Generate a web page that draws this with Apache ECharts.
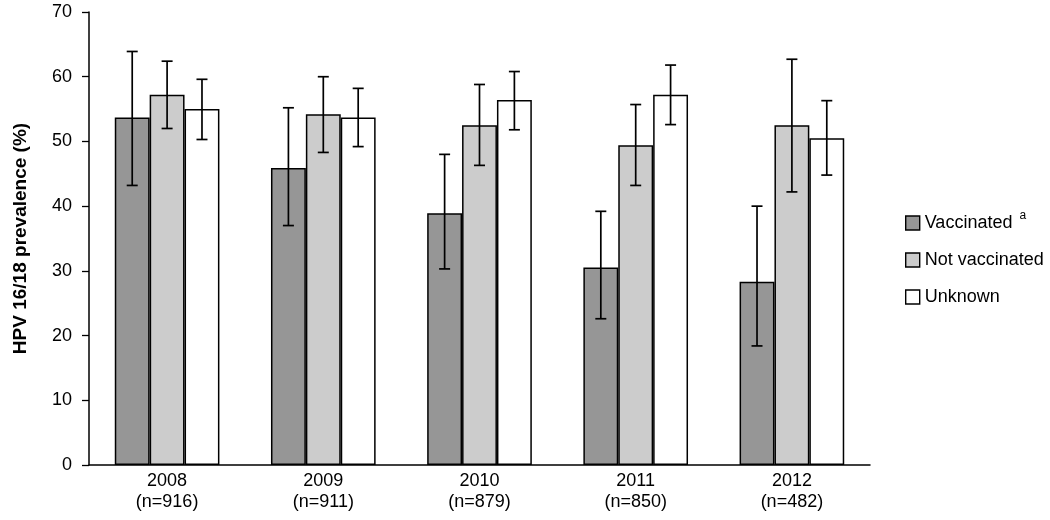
<!DOCTYPE html>
<html><head><meta charset="utf-8">
<script src="https://cdn.jsdelivr.net/npm/echarts@6/dist/echarts.min.js"></script>
<style>html,body{margin:0;padding:0;background:#fff}#c{width:1050px;height:520px}</style>
</head><body><div id="c"></div>
<script>
const categories = ['2008\n(n=916)', '2009\n(n=911)', '2010\n(n=879)', '2011\n(n=850)', '2012\n(n=482)'];
const seriesNames = ['Vaccinated', 'Not vaccinated', 'Unknown'];
const vaccinated = [53.7, 45.9, 38.9, 30.5, 28.3];
const vaccinatedLow = [43.2, 37.0, 30.3, 22.6, 18.4];
const vaccinatedHigh = [63.9, 55.2, 48.0, 39.2, 40.0];
const notVaccinated = [57.2, 54.2, 52.5, 49.4, 52.5];
const notVaccinatedLow = [52.0, 48.3, 46.3, 43.2, 42.2];
const notVaccinatedHigh = [62.4, 60.0, 58.8, 55.7, 62.7];
const unknown = [55.0, 53.7, 56.4, 57.2, 50.5];
const unknownLow = [50.3, 49.2, 51.8, 52.6, 44.8];
const unknownHigh = [59.6, 58.2, 60.8, 61.8, 56.3];
const yTicks = [0, 10, 20, 30, 40, 50, 60, 70];

const colors = ['#969696', '#cccccc', '#ffffff'];
const values = [vaccinated, notVaccinated, unknown];
const lows = [vaccinatedLow, notVaccinatedLow, unknownLow];
const highs = [vaccinatedHigh, notVaccinatedHigh, unknownHigh];
const gapFrac = 0.33;
const font = 'Liberation Sans, Arial, sans-serif';

const chart = echarts.init(document.getElementById('c'));
const series = [];
seriesNames.forEach((n, i) => {
  series.push({
    name: n, type: 'bar', data: values[i], barGap: '0%', barCategoryGap: '33%',
    itemStyle: { color: colors[i], borderColor: '#000', borderWidth: 1.5 },
    emphasis: { disabled: true }, z: 2
  });
});
seriesNames.forEach((n, i) => {
  series.push({
    type: 'custom', z: 5, silent: true,
    data: categories.map((c, k) => [k, lows[i][k], highs[i][k]]),
    renderItem: function (params, api) {
      const k = api.value(0);
      const band = api.size([1, 0])[0];
      const bw = band * (1 - gapFrac) / 3;
      const lo = api.coord([k, api.value(1)]);
      const hi = api.coord([k, api.value(2)]);
      const x = lo[0] + (i - 1) * bw;
      const cap = 5.5;
      const st = { stroke: '#000', lineWidth: 1.7 };
      return { type: 'group', children: [
        { type: 'line', shape: { x1: x, y1: lo[1], x2: x, y2: hi[1] }, style: st },
        { type: 'line', shape: { x1: x - cap, y1: lo[1], x2: x + cap, y2: lo[1] }, style: st },
        { type: 'line', shape: { x1: x - cap, y1: hi[1], x2: x + cap, y2: hi[1] }, style: st }
      ]};
    }
  });
});

chart.setOption({
  animation: false,
  textStyle: { fontFamily: font },
  grid: { left: 89, right: 180, top: 12, bottom: 55 },
  legend: {
    orient: 'vertical', left: 900, top: 205, itemGap: 19,
    itemWidth: 14, itemHeight: 14, icon: 'rect',
    data: seriesNames.map((n, i) => ({ name: n, itemStyle: { color: colors[i], borderColor: '#000', borderWidth: 1.4 } })),
    textStyle: { fontSize: 18, color: '#000', fontFamily: font, rich: { sup: { fontSize: 12, verticalAlign: 'top', padding: [0, 0, 14, 7], color: '#000' } } },
    formatter: function (n) { return n === 'Vaccinated' ? n + '{sup|a}' : n; }
  },
  xAxis: {
    type: 'category', data: categories,
    axisLine: { lineStyle: { color: '#000', width: 1.5 } },
    axisTick: { show: false },
    axisLabel: { color: '#000', fontSize: 18, lineHeight: 21, margin: 6, fontFamily: font }
  },
  yAxis: {
    type: 'value', min: 0, max: 70, interval: 10,
    name: 'HPV 16/18 prevalence (%)', nameLocation: 'middle', nameGap: 59, nameRotate: 90,
    nameTextStyle: { color: '#000', fontSize: 19, fontWeight: 'bold', fontFamily: font },
    splitLine: { show: false },
    axisLine: { show: true, lineStyle: { color: '#000', width: 1.5 } },
    axisTick: { show: true, length: 7, lineStyle: { color: '#000', width: 1.3 } },
    axisLabel: { color: '#000', fontSize: 18, margin: 17, fontFamily: font,
      formatter: v => yTicks.includes(v) ? String(v) : '' }
  },
  series: series
});
</script></body></html>
